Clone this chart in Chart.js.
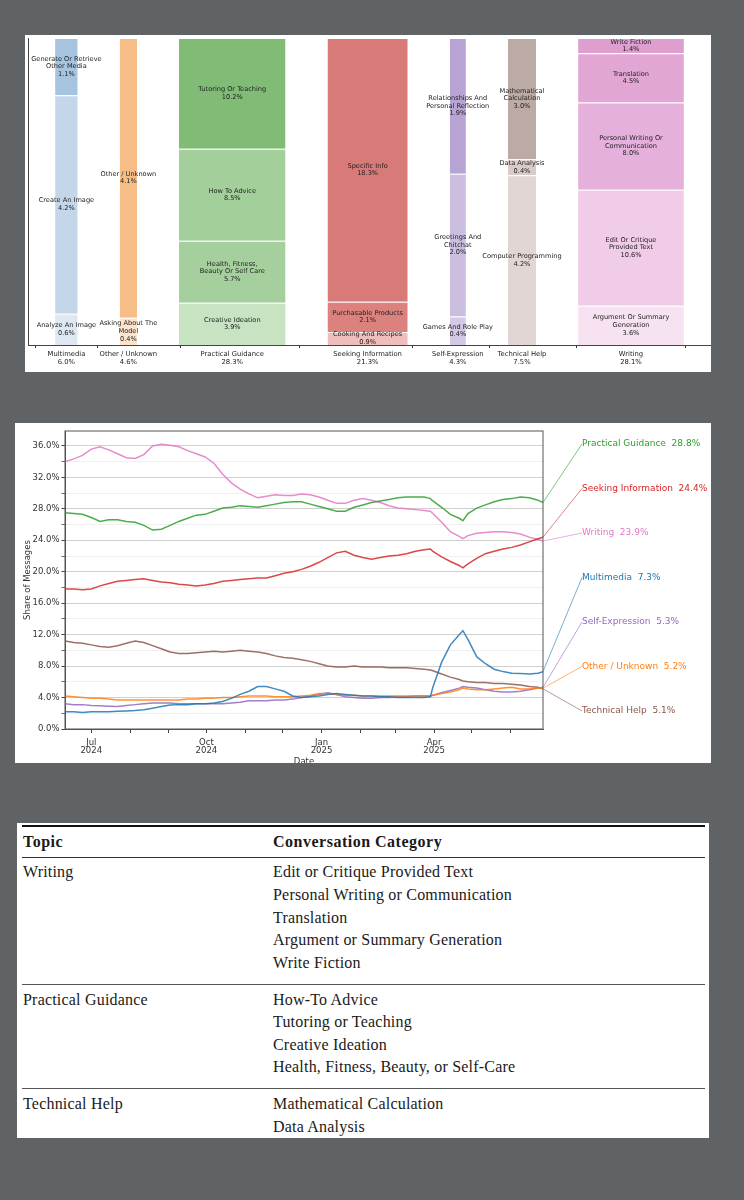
<!DOCTYPE html>
<html>
<head>
<meta charset="utf-8">
<script src="https://cdn.jsdelivr.net/npm/chart.js@4.4.1/dist/chart.umd.min.js"></script>
<style>
html, body { margin: 0; padding: 0; background: #5f6366; width: 744px; height: 1200px; overflow: hidden; }
.panel { position: absolute; background: #fff; overflow: hidden; }
#p1 { left: 25px; top: 35px; width: 686px; height: 337px; }
#p2 { left: 15px; top: 423px; width: 696px; height: 340px; }
#p3 { left: 17px; top: 823px; width: 692px; height: 315px; }
#tbl { position: absolute; left: 5px; right: 4px; top: 2px; font-family: "Liberation Serif", serif; font-size: 16px; letter-spacing: 0.2px; line-height: 22.6px; color: #1a1a1a; }
#tbl .row { display: flex; }
#tbl .c1 { width: 250px; padding-left: 1px; flex: none; }
#tbl .hdr { border-top: 2px solid #111; border-bottom: 1.3px solid #333; padding: 4.4px 0 2.7px; font-weight: bold; letter-spacing: 0.5px; }
#tbl .grp { border-bottom: 1.5px solid #555; padding: 3.8px 0 9.3px; }
</style>
</head>
<body>
<div class="panel" id="p1"><canvas id="mekko" width="686" height="337"></canvas></div>
<div class="panel" id="p2"><canvas id="trend" width="696" height="350"></canvas></div>
<div class="panel" id="p3"><div id="tbl"></div></div>
<script>
// ---- top chart: share of messages by topic / sub-category ----
const topics = ['Multimedia', 'Other / Unknown', 'Practical Guidance', 'Seeking Information', 'Self-Expression', 'Technical Help', 'Writing'];
const topicShares = [6.0, 4.6, 28.3, 21.3, 4.3, 7.5, 28.1];
// sub-categories, bottom to top
const subNames = [
  ['Analyze An Image', 'Create An Image', 'Generate Or Retrieve Other Media'],
  ['Asking About The Model', 'Other / Unknown'],
  ['Creative Ideation', 'Health, Fitness, Beauty Or Self Care', 'How To Advice', 'Tutoring Or Teaching'],
  ['Cooking And Recipes', 'Purchasable Products', 'Specific Info'],
  ['Games And Role Play', 'Greetings And Chitchat', 'Relationships And Personal Reflection'],
  ['Computer Programming', 'Data Analysis', 'Mathematical Calculation'],
  ['Argument Or Summary Generation', 'Edit Or Critique Provided Text', 'Personal Writing Or Communication', 'Translation', 'Write Fiction']
];
const subShares = [
  [0.6, 4.2, 1.1],
  [0.4, 4.1],
  [3.9, 5.7, 8.5, 10.2],
  [0.9, 2.1, 18.3],
  [0.4, 2.0, 1.9],
  [4.2, 0.4, 3.0],
  [3.6, 10.6, 8.0, 4.5, 1.4]
];
const subColors = [
  ['#dde8f3', '#c4d7ea', '#a6c3df'],
  ['#fbe3cc', '#f6bd86'],
  ['#c7e3c1', '#a5d09d', '#a3cf9b', '#80bc76'],
  ['#efbdbb', '#dc827e', '#d87a77'],
  ['#d3c8e5', '#cbbedf', '#b8a4d4'],
  ['#e1d6d3', '#d9ccc8', '#bcaaa4'],
  ['#f6e2f1', '#f0cce8', '#e5b0db', '#e2a6d5', '#df9ed0']
];

// ---- middle chart: share of messages over time ----
const dates = ['2024-06-10','2024-06-17','2024-06-24','2024-07-01','2024-07-08','2024-07-15','2024-07-22','2024-07-29','2024-08-05','2024-08-12',
  '2024-08-19','2024-08-26','2024-09-02','2024-09-09','2024-09-16','2024-09-23','2024-09-30','2024-10-07','2024-10-14','2024-10-21',
  '2024-10-28','2024-11-04','2024-11-11','2024-11-18','2024-11-25','2024-12-02','2024-12-09','2024-12-16','2024-12-23','2024-12-30',
  '2025-01-06','2025-01-13','2025-01-20','2025-01-27','2025-02-03','2025-02-10','2025-02-17','2025-02-24','2025-03-03','2025-03-10',
  '2025-03-17','2025-03-24','2025-03-29','2025-03-31','2025-04-07','2025-04-14','2025-04-21','2025-04-24','2025-04-28','2025-05-05',
  '2025-05-12','2025-05-19','2025-05-26','2025-06-02','2025-06-09','2025-06-16','2025-06-23','2025-06-27'];
const practicalGuidance = [27.5, 27.4, 27.3, 26.9, 26.4, 26.6, 26.6, 26.4, 26.3, 25.9,
  25.3, 25.4, 25.9, 26.4, 26.8, 27.2, 27.3, 27.7, 28.1, 28.2,
  28.4, 28.3, 28.2, 28.4, 28.6, 28.8, 28.9, 28.9, 28.6, 28.3,
  28.0, 27.7, 27.7, 28.2, 28.5, 28.8, 29.0, 29.2, 29.4, 29.5,
  29.5, 29.5, 29.3, 29.0, 28.2, 27.3, 26.8, 26.5, 27.4, 28.1,
  28.5, 28.9, 29.2, 29.3, 29.5, 29.4, 29.1, 28.8];
const seekingInformation = [17.8, 17.8, 17.7, 17.8, 18.2, 18.5, 18.8, 18.9, 19.0, 19.1,
  18.9, 18.7, 18.6, 18.4, 18.3, 18.2, 18.3, 18.5, 18.8, 18.9,
  19.0, 19.1, 19.2, 19.2, 19.5, 19.8, 20.0, 20.3, 20.7, 21.2,
  21.8, 22.4, 22.6, 22.1, 21.8, 21.6, 21.8, 22.0, 22.1, 22.3,
  22.6, 22.8, 22.9, 22.6, 21.9, 21.3, 20.8, 20.5, 21.0, 21.7,
  22.3, 22.6, 22.9, 23.1, 23.4, 23.8, 24.2, 24.4];
const writing = [34.0, 34.35, 34.8, 35.6, 35.9, 35.5, 35.0, 34.5, 34.4, 34.9,
  36.0, 36.2, 36.1, 35.9, 35.4, 35.0, 34.6, 33.8, 32.4, 31.3,
  30.5, 29.9, 29.4, 29.6, 29.8, 29.7, 29.7, 29.9, 29.8, 29.5,
  29.1, 28.7, 28.7, 29.1, 29.3, 29.1, 28.8, 28.4, 28.1, 28.0,
  27.9, 27.8, 27.7, 27.4, 26.3, 25.1, 24.5, 24.2, 24.6, 24.9,
  25.0, 25.1, 25.1, 25.0, 24.8, 24.4, 24.1, 23.9];
const multimedia = [2.2, 2.2, 2.1, 2.2, 2.2, 2.2, 2.25, 2.3, 2.35, 2.45,
  2.65, 2.85, 3.05, 3.1, 3.1, 3.2, 3.2, 3.3, 3.5, 3.9,
  4.4, 4.8, 5.4, 5.4, 5.1, 4.8, 4.2, 4.0, 4.1, 4.2,
  4.4, 4.5, 4.4, 4.3, 4.2, 4.2, 4.1, 4.1, 4.0, 4.0,
  4.0, 4.0, 4.1, 5.3, 8.5, 10.7, 12.0, 12.5, 11.4, 9.2,
  8.3, 7.6, 7.3, 7.1, 7.05, 7.0, 7.1, 7.3];
const selfExpression = [3.2, 3.1, 3.1, 3.0, 2.95, 2.9, 2.85, 3.0, 3.1, 3.2,
  3.3, 3.3, 3.3, 3.2, 3.2, 3.2, 3.2, 3.2, 3.2, 3.3,
  3.4, 3.6, 3.6, 3.6, 3.7, 3.7, 3.8, 4.0, 4.2, 4.4,
  4.6, 4.4, 4.1, 4.0, 3.9, 3.9, 4.0, 4.0, 4.1, 4.1,
  4.2, 4.2, 4.2, 4.3, 4.6, 4.9, 5.2, 5.4, 5.3, 5.2,
  5.0, 4.8, 4.7, 4.7, 4.8, 5.0, 5.2, 5.3];
const otherUnknown = [4.2, 4.1, 4.0, 3.9, 3.9, 3.8, 3.7, 3.7, 3.7, 3.7,
  3.7, 3.7, 3.7, 3.7, 3.8, 3.8, 3.9, 3.9, 4.0, 4.0,
  4.1, 4.2, 4.2, 4.2, 4.1, 4.1, 4.1, 4.2, 4.3, 4.5,
  4.5, 4.4, 4.3, 4.3, 4.2, 4.2, 4.2, 4.2, 4.2, 4.2,
  4.2, 4.2, 4.2, 4.3, 4.5, 4.7, 5.0, 5.2, 5.1, 5.0,
  5.0, 5.1, 5.2, 5.3, 5.1, 5.1, 5.2, 5.2];
const technicalHelp = [11.2, 11.0, 10.9, 10.7, 10.5, 10.4, 10.6, 10.9, 11.2, 11.0,
  10.6, 10.2, 9.8, 9.6, 9.6, 9.7, 9.8, 9.9, 9.8, 9.9,
  10.0, 9.9, 9.8, 9.6, 9.3, 9.1, 9.0, 8.8, 8.6, 8.3,
  8.0, 7.9, 7.9, 8.0, 7.9, 7.9, 7.9, 7.8, 7.8, 7.8,
  7.7, 7.6, 7.5, 7.4, 7.0, 6.6, 6.3, 6.1, 6.0, 5.9,
  5.9, 5.8, 5.8, 5.7, 5.6, 5.4, 5.3, 5.1];
const seriesNames = ['Multimedia', 'Other / Unknown', 'Practical Guidance', 'Seeking Information', 'Self-Expression', 'Technical Help', 'Writing'];
const seriesValues = [multimedia, otherUnknown, practicalGuidance, seekingInformation, selfExpression, technicalHelp, writing];
const seriesColors = ['#1f77b4', '#ff7f0e', '#2ca02c', '#d62728', '#9467bd', '#8c564b', '#e377c2'];
const monthNames = ['Jan','Feb','Mar','Apr','May','Jun','Jul','Aug','Sep','Oct','Nov','Dec'];

// ---- bottom table ----
const tableTopics = ['Writing', 'Practical Guidance', 'Technical Help'];
const tableCategories = [
  ['Edit or Critique Provided Text', 'Personal Writing or Communication', 'Translation', 'Argument or Summary Generation', 'Write Fiction'],
  ['How-To Advice', 'Tutoring or Teaching', 'Creative Ideation', 'Health, Fitness, Beauty, or Self-Care'],
  ['Mathematical Calculation', 'Data Analysis']
];

Chart.defaults.font.family = '"DejaVu Sans", sans-serif';
Chart.defaults.color = '#222';
Chart.defaults.animation = false;

function wrapText(s, width) {
  const out = [];
  let cur = '';
  s.split(' ').forEach(w => {
    if (cur && (cur + ' ' + w).length > width) { out.push(cur); cur = w; }
    else cur = cur ? cur + ' ' + w : w;
  });
  if (cur) out.push(cur);
  return out;
}

function hexA(hex, a) {
  const n = parseInt(hex.slice(1), 16);
  return 'rgba(' + (n >> 16) + ',' + ((n >> 8) & 255) + ',' + (n & 255) + ',' + a + ')';
}

// ===== marimekko =====
const PAD = 7.2, GAP = 11.15;
let cursor = PAD;
const centers = [];
topicShares.forEach(s => { centers.push(cursor + s / 2); cursor += s + GAP; });
const xMax = cursor - GAP + PAD;

const mekkoSets = topics.map((t, i) => {
  const tot = subShares[i].reduce((a, b) => a + b, 0);
  let acc = 0;
  const data = subShares[i].map(v => {
    const y0 = acc;
    acc += v / tot * 100;
    return { x: centers[i], y: [y0, acc] };
  });
  return {
    label: t,
    data: data,
    names: subNames[i],
    vals: subShares[i],
    backgroundColor: subColors[i],
    borderColor: '#ffffff',
    borderWidth: { top: 1, bottom: 0, left: 0, right: 0 },
    borderSkipped: false,
    grouped: false,
    categoryPercentage: 1,
    barPercentage: topicShares[i]   // width in % units (see unit spacing below)
  };
});
// two empty points one unit apart: makes the bar ruler equal to one % unit
mekkoSets.push({ label: 'unit', data: [{ x: 0, y: null }, { x: 1, y: null }], grouped: false, backgroundColor: 'rgba(0,0,0,0)' });

const mekkoLabels = {
  id: 'mekkoLabels',
  afterDatasetsDraw(chart) {
    const ctx = chart.ctx;
    ctx.save();
    ctx.font = '6.6px "DejaVu Sans"';
    ctx.fillStyle = '#222';
    ctx.textAlign = 'center';
    ctx.textBaseline = 'middle';
    chart.data.datasets.forEach((ds, di) => {
      if (!ds.names) return;
      chart.getDatasetMeta(di).data.forEach((el, j) => {
        const lines = wrapText(ds.names[j], 20).concat(ds.vals[j].toFixed(1) + '%');
        const cy = (el.y + el.base) / 2;
        lines.forEach((ln, k) => ctx.fillText(ln, el.x, cy + (k - (lines.length - 1) / 2) * 7.6));
      });
    });
    ctx.restore();
  }
};

new Chart(document.getElementById('mekko'), {
  type: 'bar',
  data: { datasets: mekkoSets },
  options: {
    responsive: false,
    animation: false,
    layout: { padding: { left: 3, top: 3, right: 0, bottom: 0 } },
    plugins: { legend: { display: false }, tooltip: { enabled: false } },
    scales: {
      x: {
        type: 'linear', min: 0, max: xMax, offset: false,
        afterBuildTicks: s => { s.ticks = centers.map(v => ({ value: v })); },
        afterFit: s => { s.height = 27; },
        ticks: {
          autoSkip: false, maxRotation: 0, padding: 2, color: '#222',
          font: { size: 6.8, lineHeight: 1.2 },
          callback: (v, i) => [topics[i], topicShares[i].toFixed(1) + '%']
        },
        grid: { drawOnChartArea: false, tickLength: 3, tickColor: '#333' },
        border: { color: '#444' }
      },
      y: {
        min: 0, max: 100,
        afterFit: s => { s.width = 0; },
        ticks: { display: false },
        grid: { display: false },
        border: { display: true, color: '#444' }
      }
    }
  },
  plugins: [mekkoLabels]
});

// ===== trend lines =====
const dayOf = d => Math.round((Date.parse(d) - Date.parse('2024-01-01')) / 864e5);
const xs = dates.map(dayOf);
const monthTicks = [];
for (let m = 6; m < 18; m++) {
  const y = 2024 + Math.floor(m / 12);
  const mm = m % 12;
  monthTicks.push({ value: dayOf(y + '-' + String(mm + 1).padStart(2, '0') + '-01'), m: mm, y: y });
}

const trendSets = seriesNames.map((n, i) => ({
  label: n,
  data: seriesValues[i].map((v, k) => ({ x: xs[k], y: v })),
  borderColor: hexA(seriesColors[i], 0.85),
  borderWidth: 1.5,
  pointRadius: 0,
  tension: 0,
  fill: false
}));

const trendDecor = {
  id: 'trendDecor',
  afterDatasetsDraw(chart) {
    const ctx = chart.ctx;
    const a = chart.chartArea;
    ctx.save();
    ctx.strokeStyle = '#555';
    ctx.lineWidth = 1;
    ctx.strokeRect(a.left, a.top, a.right - a.left, a.bottom - a.top);
    // end labels, ordered by final value
    const order = seriesNames.map((n, i) => i)
      .sort((p, q) => seriesValues[q][seriesValues[q].length - 1] - seriesValues[p][seriesValues[p].length - 1]);
    const h = a.bottom - a.top;
    ctx.font = '9px "DejaVu Sans"';
    ctx.textAlign = 'left';
    ctx.textBaseline = 'middle';
    order.forEach((di, rank) => {
      const pts = chart.getDatasetMeta(di).data;
      const last = pts[pts.length - 1];
      const lx = a.right + 39;
      const ly = a.top + h * (0.0436 + rank * 0.1493);
      const vals = seriesValues[di];
      ctx.strokeStyle = hexA(seriesColors[di], 0.75);
      ctx.lineWidth = 0.8;
      ctx.beginPath();
      ctx.moveTo(last.x, last.y);
      ctx.lineTo(lx, ly);
      ctx.stroke();
      ctx.fillStyle = seriesColors[di];
      ctx.fillText(seriesNames[di] + '  ' + vals[vals.length - 1].toFixed(1) + '%', lx, ly);
    });
    ctx.restore();
  }
};

new Chart(document.getElementById('trend'), {
  type: 'line',
  data: { datasets: trendSets },
  options: {
    responsive: false,
    animation: false,
    layout: { padding: { left: 0, top: 8, right: 168, bottom: 0 } },
    plugins: { legend: { display: false }, tooltip: { enabled: false } },
    scales: {
      x: {
        type: 'linear', min: xs[0], max: xs[xs.length - 1],
        afterBuildTicks: s => { s.ticks = monthTicks.map(t => ({ value: t.value })); },
        afterFit: s => { s.height = 44; },
        ticks: {
          autoSkip: false, maxRotation: 0, padding: 6, color: '#333',
          font: { size: 8.5, lineHeight: 0.9 },
          callback: (v, i) => (monthTicks[i].m % 3 === 0 ? [monthNames[monthTicks[i].m], String(monthTicks[i].y)] : '')
        },
        grid: { drawOnChartArea: false, tickLength: 4, tickColor: '#444' },
        border: { color: '#555' },
        title: { display: true, text: 'Date', color: '#333', font: { size: 8.5 }, padding: { top: 0, bottom: 6 } }
      },
      y: {
        min: 0, max: 37.9,
        afterFit: s => { s.width = 50; },
        ticks: {
          stepSize: 2, includeBounds: false, padding: 2, color: '#333',
          font: { size: 8.5 },
          callback: v => (Math.round(v) % 4 === 0 ? v.toFixed(1) + '%' : '')
        },
        grid: {
          color: c => (Math.round(c.tick.value) % 4 === 0 ? '#d0d0d0' : '#ececec'),
          lineWidth: c => (Math.round(c.tick.value) % 4 === 0 ? 1 : 0.8),
          tickLength: 3.5, tickColor: '#444'
        },
        border: { color: '#555' },
        title: { display: true, text: 'Share of Messages', color: '#333', font: { size: 8.5 }, padding: { top: 8, bottom: 0 } }
      }
    }
  },
  plugins: [trendDecor]
});

// ===== table =====
const tbl = document.getElementById('tbl');
let html = '<div class="row hdr"><span class="c1">Topic</span><span>Conversation Category</span></div>';
tableTopics.forEach((t, i) => {
  html += '<div class="row grp"><span class="c1">' + t + '</span><span>' + tableCategories[i].join('<br>') + '</span></div>';
});
tbl.innerHTML = html;
</script>
</body>
</html>
